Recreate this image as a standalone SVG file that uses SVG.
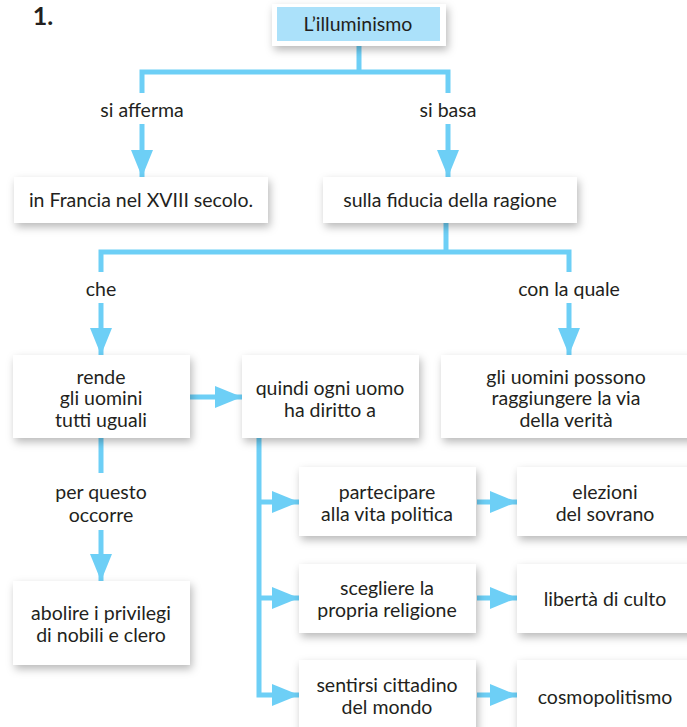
<svg xmlns="http://www.w3.org/2000/svg" width="687" height="727" viewBox="0 0 687 727">
<style>
text{font-family:Lato,"Open Sans","Liberation Sans",sans-serif;font-size:19.5px;fill:#231f20;text-anchor:middle}
.box{fill:#fff;filter:url(#sh)}
.conn{fill:none;stroke:#6dcff6;stroke-width:5;stroke-linejoin:miter}
.arr{marker-end:url(#ah)}
</style>
<defs>
<filter id="sh" x="-20%" y="-30%" width="140%" height="170%">
<feDropShadow dx="2" dy="4" stdDeviation="4" flood-color="#000" flood-opacity="0.28"/>
</filter>
<marker id="ah" markerUnits="userSpaceOnUse" markerWidth="28" markerHeight="22" refX="27" refY="11" orient="auto">
<path d="M0,0 L27,11 L0,22 Z" fill="#6dcff6"/>
</marker>
</defs>
<rect width="687" height="727" fill="#fff"/>
<text x="43" y="25" style="font-weight:bold;font-size:25px">1.</text>
<g id="connectors">
<path class="conn" d="M359,44 V72"/>
<path class="conn" d="M142,93 V72 H448 V93"/>
<path class="conn arr" d="M142,124 V177"/>
<path class="conn arr" d="M448,124 V177"/>
<path class="conn" d="M446,223 V252"/>
<path class="conn" d="M101,272 V252 H569 V272"/>
<path class="conn arr" d="M101,303 V355"/>
<path class="conn arr" d="M569,303 V355"/>
<path class="conn arr" d="M190,397 H242"/>
<path class="conn" d="M101,438 V473"/>
<path class="conn arr" d="M101,530 V581"/>
<path class="conn arr" d="M259,438 V695 H299"/>
<path class="conn arr" d="M259,502 H299"/>
<path class="conn arr" d="M259,598 H299"/>
<path class="conn arr" d="M477,502 H517"/>
<path class="conn arr" d="M477,598 H517"/>
<path class="conn arr" d="M477,695 H517"/>
</g>
<g id="labels">
<text x="142" y="117">si afferma</text>
<text x="448" y="117">si basa</text>
<text x="101" y="296">che</text>
<text x="569" y="296">con la quale</text>
<text x="101" y="499">per questo</text>
<text x="101" y="522">occorre</text>
</g>
<g id="n-illuminismo">
<rect class="box" x="272" y="4" width="174" height="42"/>
<rect x="277" y="7" width="163" height="34" fill="#abe1fa"/>
<text x="358" y="31">L’illuminismo</text>
</g>
<g id="n-francia">
<rect class="box" x="14" y="177" width="254" height="46"/>
<text x="141" y="207">in Francia nel XVIII secolo.</text>
</g>
<g id="n-fiducia">
<rect class="box" x="323" y="177" width="254" height="46"/>
<text x="450" y="207">sulla fiducia della ragione</text>
</g>
<g id="n-rende">
<rect class="box" x="13" y="355" width="177" height="83"/>
<text x="101" y="384">rende</text>
<text x="101" y="405">gli uomini</text>
<text x="101" y="427">tutti uguali</text>
</g>
<g id="n-quindi">
<rect class="box" x="242" y="355" width="177" height="83"/>
<text x="330" y="395">quindi ogni uomo</text>
<text x="330" y="417">ha diritto a</text>
</g>
<g id="n-uomini">
<rect class="box" x="441" y="355" width="260" height="83"/>
<text x="566" y="384">gli uomini possono</text>
<text x="566" y="405">raggiungere la via</text>
<text x="566" y="427">della verità</text>
</g>
<g id="n-abolire">
<rect class="box" x="13" y="581" width="177" height="84"/>
<text x="101" y="620">abolire i privilegi</text>
<text x="101" y="642">di nobili e clero</text>
</g>
<g id="n-partecipare">
<rect class="box" x="299" y="467" width="177" height="69"/>
<text x="387" y="499">partecipare</text>
<text x="387" y="521">alla vita politica</text>
</g>
<g id="n-elezioni">
<rect class="box" x="517" y="467" width="190" height="69"/>
<text x="605" y="499">elezioni</text>
<text x="605" y="521">del sovrano</text>
</g>
<g id="n-scegliere">
<rect class="box" x="299" y="564" width="177" height="69"/>
<text x="387" y="595">scegliere la</text>
<text x="387" y="617">propria religione</text>
</g>
<g id="n-liberta">
<rect class="box" x="517" y="564" width="190" height="69"/>
<text x="605" y="606">libertà di culto</text>
</g>
<g id="n-sentirsi">
<rect class="box" x="299" y="660" width="177" height="80"/>
<text x="387" y="692">sentirsi cittadino</text>
<text x="387" y="714">del mondo</text>
</g>
<g id="n-cosmo">
<rect class="box" x="517" y="660" width="190" height="80"/>
<text x="605" y="704">cosmopolitismo</text>
</g>
</svg>
